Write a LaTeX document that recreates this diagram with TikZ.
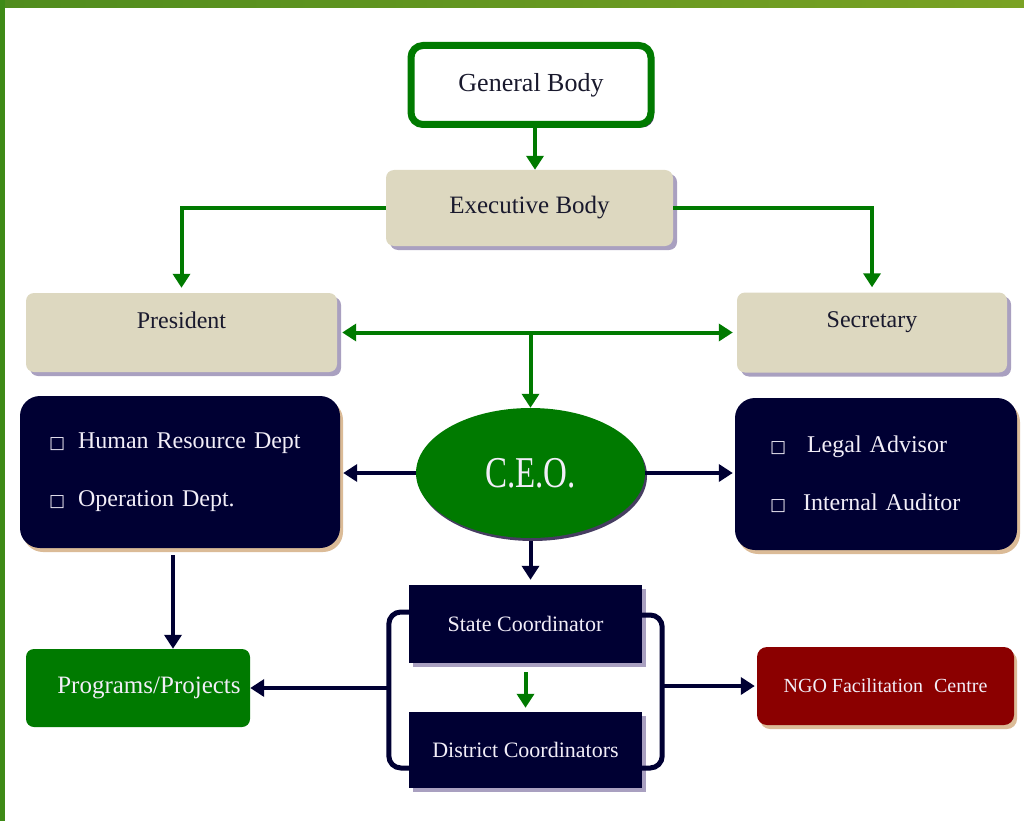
\documentclass[tikz,border=0pt]{standalone}
\usepackage{fontspec}
\usepackage{graphicx}
\setmainfont{Liberation Serif}
\newfontfamily\boxglyph{DejaVu Sans}
\usetikzlibrary{arrows.meta,shapes.geometric,shadows}

\definecolor{orggreen}{RGB}{0,122,0}
\definecolor{orgbeige}{RGB}{221,216,192}
\definecolor{orgnavy}{RGB}{0,0,51}
\definecolor{orgred}{RGB}{139,0,0}
\definecolor{shadegrey}{RGB}{160,150,185}
\definecolor{shadetan}{RGB}{215,180,140}
\definecolor{shadedark}{RGB}{50,40,80}
\definecolor{paletext}{RGB}{242,238,248}
\definecolor{darktext}{RGB}{25,25,45}
\definecolor{framegreen}{RGB}{62,138,22}
\definecolor{frameleft}{RGB}{80,140,30}
\definecolor{frameright}{RGB}{122,162,36}

\newcommand{\sqbullet}{{\boxglyph\fontsize{17}{17}\selectfont □}\hspace{13pt}}

\begin{document}
\begin{tikzpicture}[x=1pt,y=-1pt,
  gline/.style={draw=orggreen,line width=4pt,-{Triangle[width=17pt,length=14pt]}},
  nline/.style={draw=orgnavy,line width=4pt,-{Triangle[width=17pt,length=14pt]}},
  bracket/.style={draw=orgnavy,line width=5pt,rounded corners=12pt},
  beigebox/.style={fill=orgbeige,rounded corners=8pt,inner sep=0pt,text=darktext,
    font=\fontsize{24}{28}\selectfont,
    drop shadow={shadow xshift=4pt,shadow yshift=-4pt,fill=shadegrey,opacity=.9}},
  navybox/.style={fill=orgnavy,rounded corners=20pt,text=paletext,align=left,
    inner ysep=0pt,font=\fontsize{24}{58}\selectfont,
    drop shadow={shadow xshift=3pt,shadow yshift=-4pt,fill=shadetan,opacity=.9}},
  coordbox/.style={fill=orgnavy,text=paletext,inner sep=0pt,
    minimum width=233pt,font=\fontsize{22}{24}\selectfont,
    drop shadow={shadow xshift=4pt,shadow yshift=-4pt,fill=shadegrey,opacity=.9}}
]
\useasboundingbox (0,0) rectangle (1024,821);
\shade[left color=frameleft,right color=frameright] (0,0) rectangle (1024,8);
\fill[framegreen] (0,0) rectangle (5,821);

\node[draw=orggreen,line width=7pt,fill=white,rounded corners=12pt,text=darktext,
  minimum width=240pt,minimum height=79pt,inner sep=0pt,
  font=\fontsize{26}{30}\selectfont,
  drop shadow={shadow xshift=3pt,shadow yshift=-3pt,fill=shadedark,opacity=.9}]
  (general) at (531,85) {General Body};
\node[beigebox,minimum width=287pt,minimum height=76pt,font=\fontsize{25}{28}\selectfont]
  (exec) at (529.5,208) {Executive Body};
\node[beigebox,minimum width=311pt,minimum height=79pt,text depth=25pt]
  (pres) at (181.5,332.5) {President};
\node[beigebox,minimum width=270pt,minimum height=80pt,text depth=25pt]
  (sec) at (872,332.5) {Secretary};

\node[ellipse,fill=orggreen,text=paletext,minimum width=229pt,minimum height=130pt,
  inner sep=0pt,font=\fontsize{44}{48}\selectfont,
  drop shadow={shadow xshift=2pt,shadow yshift=-3pt,fill=shadedark,opacity=.9}]
  (ceo) at (530.5,473) {\scalebox{0.75}[1]{C.E.O.}};

\node[navybox,minimum width=320pt,minimum height=152pt,text width=262pt,inner xsep=29pt]
  (hr) at (180,472) {\sqbullet Human Resource Dept\\ \sqbullet Operation Dept.};
\node[navybox,minimum width=282pt,minimum height=152pt,text width=212pt,inner xsep=35pt]
  (legal) at (876,474) {\sqbullet\hspace{8pt}Legal Advisor\\ \sqbullet\hspace{4pt}Internal Auditor};

\node[coordbox,minimum height=78pt] (state) at (525.5,624) {State Coordinator};
\node[coordbox,minimum height=76pt] (dist) at (525.5,750) {District Coordinators};

\node[fill=orggreen,text=paletext,rounded corners=8pt,minimum width=224pt,
  minimum height=78pt,inner sep=0pt,font=\fontsize{25}{28}\selectfont]
  (prog) at (138,688) {\hspace*{22pt}Programs/Projects};
\node[fill=orgred,text=paletext,rounded corners=10pt,minimum width=257pt,
  minimum height=78pt,inner sep=0pt,font=\fontsize{20}{24}\selectfont,
  drop shadow={shadow xshift=3pt,shadow yshift=-4pt,fill=shadetan,opacity=.9}]
  (ngo) at (885.5,686) {NGO Facilitation\hspace{6pt} Centre};

\draw[gline] ([xshift=4pt]general.south) -- ([xshift=4pt]general.south |- exec.north);
\draw[gline,shorten >=5pt] (exec.west) -| (pres.north);
\draw[gline,shorten >=5pt] (exec.east) -| (sec.north);
\draw[gline,{Triangle[width=17pt,length=14pt]}-{Triangle[width=17pt,length=14pt]},
  shorten <=5pt,shorten >=4pt] (pres.east) -- (pres.east -| sec.west);
\coordinate (split) at (ceo.north |- pres.east);
\draw[gline] (split) -- (ceo.north);

\draw[nline,shorten >=3pt] (ceo.west) -- (ceo.west -| hr.east);
\draw[nline,shorten >=2pt] (ceo.east) -- (ceo.east -| legal.west);
\draw[nline,shorten <=3pt,shorten >=5pt] (ceo.south) -- (ceo.south |- state.north);
\draw[gline,shorten <=9pt,shorten >=4pt] (state.south) -- (dist.north);
\draw[nline,shorten <=7pt] ([xshift=-7pt]hr.south) -- ([xshift=-7pt]hr.south |- prog.north);

\draw[bracket] ([yshift=12pt]state.west) -- ++(-20,0) |- ([yshift=-18pt]dist.west);
\draw[bracket] ([yshift=9pt]state.east) -- ++(20,0) |- ([yshift=-18pt]dist.east);
\coordinate (lbrk) at ([xshift=-20pt]state.west |- prog.east);
\coordinate (rbrk) at ([xshift=20pt]state.east |- ngo.west);
\draw[nline] (lbrk) -- (prog.east);
\draw[nline,shorten >=2pt] (rbrk) -- (ngo.west);
\end{tikzpicture}
\end{document}
